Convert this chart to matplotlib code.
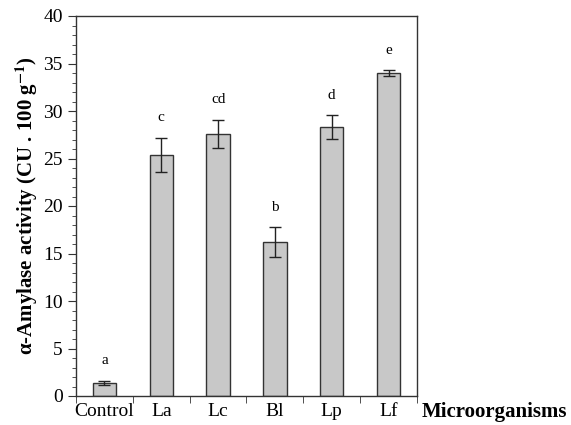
import numpy as np
import matplotlib
matplotlib.use("Agg")
import matplotlib.pyplot as plt
from matplotlib.ticker import MultipleLocator, FixedLocator

# Data
categories = ["Control", "La", "Lc", "Bl", "Lp", "Lf"]
values = [1.4, 25.4, 27.6, 16.2, 28.3, 34.0]
errors = [0.2, 1.8, 1.5, 1.6, 1.25, 0.3]
letters = ["a", "c", "cd", "b", "d", "e"]

plt.rcParams["font.family"] = ["Liberation Serif", "DejaVu Serif"]
plt.rcParams["mathtext.fontset"] = "stix"

fig = plt.figure(figsize=(5.71, 4.25), dpi=100)
ax = fig.add_axes([76 / 571, 1 - 396 / 425, 341 / 571, 380 / 425])

x = np.arange(len(categories))
edge = "#333333"
ax.bar(x, values, width=0.41, color="#c8c8c8", edgecolor=edge, linewidth=1.0, zorder=2)
ax.errorbar(x, values, yerr=errors, fmt="none", ecolor="#222222",
            elinewidth=1.0, capsize=4, capthick=1.0, zorder=3)

for xi, v, e, lab in zip(x, values, errors, letters):
    ax.text(xi, v + e + 1.4, lab, ha="center", va="bottom", fontsize=11)

ax.set_xlim(-0.5, len(categories) - 0.5)
ax.set_ylim(0, 40)
ax.yaxis.set_major_locator(MultipleLocator(5))
ax.yaxis.set_minor_locator(MultipleLocator(1))
ax.xaxis.set_major_locator(FixedLocator(x))
ax.xaxis.set_minor_locator(FixedLocator(np.arange(-0.5, len(categories), 1.0)))
ax.set_xticklabels(categories)

ax.tick_params(axis="x", which="major", length=0, labelsize=14, pad=5)
ax.tick_params(axis="x", which="minor", length=5, direction="out", color=edge)
ax.tick_params(axis="y", which="major", length=6, direction="out", labelsize=14, color=edge)
ax.tick_params(axis="y", which="minor", length=3, direction="out", color=edge)

for s in ax.spines.values():
    s.set_color(edge)
    s.set_linewidth(1.0)

ax.set_ylabel("α-Amylase activity (CU . 100 g$^{\\mathbf{-1}}$)",
              fontsize=15, fontweight="bold", labelpad=2)
fig.text(422 / 571, 1 - 412 / 425, "Microorganisms", fontsize=15,
         fontweight="bold", ha="left", va="center")

fig.savefig("out.png", dpi=100)
